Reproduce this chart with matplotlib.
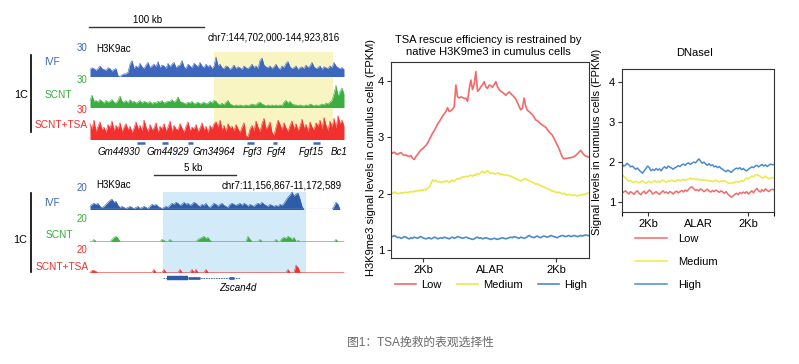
import numpy as np
import matplotlib
matplotlib.use("Agg")
import matplotlib.pyplot as plt
from matplotlib.transforms import blended_transform_factory

# ---------------- data ----------------

# genome browser, top locus (H3K9ac, 30 scale), 128 bins each
top_region = (144702000, 144923816)
top_highlight = (144810313, 144913426)
ivf_top = [8, 10, 9, 7, 9, 12, 9, 8, 7, 10, 9, 6, 8, 9,
           1, 0, 2, 3, 3, 5,
           14, 18, 9, 12, 10, 15, 11, 9, 13, 16, 10, 12, 14, 11, 17, 10, 13, 12, 9, 15, 11, 14,
           16, 10, 12, 13, 18, 11, 9, 14, 12, 10, 15, 13, 11, 16, 12, 10, 14, 11, 13, 9, 12,
           22, 12, 14, 10, 9, 12, 11, 8, 10, 13, 9, 11, 10, 8, 12, 10, 9, 11, 14, 10, 12, 9,
           18, 21, 13, 11, 10, 12, 9, 11, 14, 10, 8, 12, 10, 15, 17, 11, 9, 10, 12, 8, 10, 11,
           9, 13, 10, 12, 16, 11, 9, 10, 12, 8, 11, 10, 9, 12, 10,
           16, 12, 10, 9, 10, 8]
scnt_top = [8, 14, 7, 8, 6, 9, 7, 5, 8, 6, 7, 9, 6, 5, 8, 13, 7, 6, 8, 5,
            9, 6, 7, 5, 6, 8, 5, 7, 6, 5, 7, 4, 6, 5, 7, 6, 8, 5, 6, 7,
            7, 9, 6, 8, 12, 7, 6, 5, 4, 6, 5, 7, 4, 5, 6, 4, 5, 6, 4, 5,
            7, 5, 8,
            7, 4, 3, 5, 3, 6, 8, 4, 3, 2, 3, 2, 3, 2, 2, 3, 2, 3, 4, 3,
            3, 5, 6, 4, 3, 2, 3, 2, 3, 2, 3, 2, 3, 2, 6, 8, 5, 7, 4, 3,
            3, 2, 3, 2, 2, 3, 2, 4, 3, 2, 3, 2, 3, 4, 3, 5, 4, 6, 8,
            16, 25, 13, 18, 22, 15]
tsa_top = [18, 12, 22, 9, 15, 20, 11, 14, 8, 17, 13, 21, 10, 16, 12, 19, 9, 14, 18, 11,
           15, 8, 13, 20, 12, 16, 10, 22, 14, 9, 17, 11, 13, 19, 8, 15, 12, 18, 10, 14,
           21, 9, 16, 12, 11, 18, 13, 8, 15, 20, 10, 14, 12, 17, 9, 13, 19, 11, 15, 8,
           16, 12, 18,
           20, 14, 22, 11, 16, 9, 18, 13, 15, 10, 17, 12, 8, 14, 19, 4, 3, 12, 16, 10,
           21, 14, 9, 18, 24, 12, 15, 20, 8, 5, 14, 22, 17, 11, 19, 13, 9, 16, 21, 12,
           18, 10, 15, 23, 13, 17, 9, 20, 14, 11, 19, 15, 22, 12, 25, 16, 10, 21, 14,
           24, 13, 27, 18, 22, 15]
top_genes = ["Gm44930", "Gm44929", "Gm34964", "Fgf3", "Fgf4", "Fgf15", "Bc1"]
top_gene_spans = [(144743592, 144750524), (144765255, 144770454), (144787784, 144792116),
                  (144838907, 144845000), (144861436, 144864902), (144896096, 144902162),
                  (144920000, 144920600)]

# genome browser, bottom locus (H3K9ac, 20 scale), 128 bins each
bot_region = (11156867, 11172589)
bot_highlight = (11161411, 11170191)
ivf_bot = [3, 5, 6, 5, 6, 3, 2, 3, 5, 7, 9, 10, 7, 8, 4, 2,
           3, 2, 1, 2, 3, 2, 1, 2, 3, 1, 2, 3, 2, 1, 3, 5,
           4, 5, 3, 2, 1, 2, 3, 2, 4, 6, 5, 7, 6, 4, 5, 7,
           5, 6, 4, 5, 7, 6, 4, 3, 5, 4, 6, 3, 2, 4, 6, 5,
           3, 5, 6, 4, 3, 2, 5, 6, 5, 4, 5, 6, 4, 6, 5, 3,
           5, 4, 3, 5, 6, 5, 7, 5, 4, 3, 5, 4, 3, 4, 3, 5,
           4, 6, 9, 12, 14, 17, 13, 15, 16, 10, 3, 0, 0, 0, 0, 0,
           0, 0, 0, 0, 0, 0, 0, 0, 0, 0, 3, 7, 5, 0, 0, 0]
scnt_bot = [0, 0, 2, 0, 0, 0, 0, 0, 0, 0, 0, 2, 4, 5, 3, 0,
            0, 0, 0, 0, 0, 0, 0, 0, 0, 0, 0, 0, 0, 0, 0, 0,
            0, 0, 0, 0, 2, 1, 0, 0, 2, 0, 0, 0, 0, 0, 0, 0,
            0, 0, 0, 0, 0, 0, 2, 3, 4, 5, 3, 4, 1, 0, 0, 0,
            0, 0, 0, 0, 0, 0, 0, 0, 0, 0, 0, 0, 0, 0, 0, 5,
            2, 0, 0, 0, 0, 2, 0, 0, 0, 0, 0, 0, 0, 2, 0, 0,
            3, 4, 3, 5, 4, 2, 4, 0, 1, 0, 0, 0, 0, 0, 0, 0,
            0, 0, 0, 0, 0, 0, 0, 0, 0, 0, 0, 2, 0, 0, 0, 0]
tsa_bot = [0, 2, 2, 1, 0, 0, 0, 0, 0, 0, 0, 0, 0, 0, 0, 0,
           0, 0, 0, 0, 0, 0, 0, 0, 0, 0, 0, 0, 0, 0, 0, 0,
           3, 0, 0, 0, 0, 3, 0, 0, 0, 0, 0, 0, 0, 3, 0, 0,
           0, 0, 0, 3, 0, 3, 0, 0, 0, 0, 3, 0, 0, 0, 0, 0,
           0, 0, 0, 0, 0, 0, 0, 0, 0, 0, 0, 0, 0, 0, 0, 0,
           0, 0, 0, 0, 0, 0, 0, 0, 0, 0, 0, 0, 0, 0, 0, 0,
           0, 0, 0, 3, 0, 0, 0, 7, 5, 0, 0, 0, 0, 0, 0, 0,
           0, 0, 0, 0, 0, 0, 0, 0, 0, 0, 0, 0, 0, 0, 0, 0]
zscan_gene = (11161400, 11166150)
zscan_exons = [(11161650, 11162950, 1.0), (11162950, 11163700, 0.6), (11165450, 11165800, 0.6)]

# H3K9me3 profile (120 points)
h3_low = [2.75, 2.72, 2.74, 2.71, 2.70, 2.72, 2.73, 2.70, 2.68, 2.69,
          2.67, 2.66, 2.68, 2.63, 2.61, 2.66, 2.70, 2.74, 2.78, 2.80,
          2.83, 2.86, 2.90, 2.96, 3.02, 3.08, 3.12, 3.18, 3.24, 3.28,
          3.33, 3.38, 3.42, 3.46, 3.53, 3.46, 3.48, 3.50, 3.55, 3.93,
          3.72, 3.70, 3.72, 3.71, 3.69, 3.70, 3.64, 3.86, 4.02, 3.85,
          3.95, 4.17, 3.82, 3.85, 3.90, 3.94, 3.99, 3.90, 3.87, 3.93,
          3.92, 3.89, 3.94, 3.99, 3.90, 3.85, 3.82, 3.80, 3.78, 3.75,
          3.78, 3.81, 3.78, 3.75, 3.72, 3.68, 3.62, 3.55, 3.49, 3.52,
          3.70, 3.55, 3.48, 3.46, 3.43, 3.40, 3.36, 3.31, 3.30, 3.27,
          3.24, 3.22, 3.20, 3.18, 3.14, 3.10, 3.07, 3.04, 2.98, 2.92,
          2.86, 2.80, 2.72, 2.65, 2.62, 2.63, 2.63, 2.64, 2.64, 2.65,
          2.66, 2.68, 2.71, 2.74, 2.77, 2.73, 2.69, 2.67, 2.66, 2.65]
h3_medium = [2.02, 2.01, 2.03, 2.02, 2.00, 2.01, 2.02, 2.01, 2.02, 2.03,
             2.02, 2.03, 2.04, 2.03, 2.05, 2.04, 2.06, 2.05, 2.07, 2.06,
             2.08, 2.07, 2.10, 2.12, 2.18, 2.25, 2.22, 2.24, 2.21, 2.22,
             2.20, 2.22, 2.21, 2.23, 2.22, 2.20, 2.23, 2.24, 2.22, 2.25,
             2.27, 2.26, 2.28, 2.30, 2.29, 2.31, 2.30, 2.32, 2.33, 2.31,
             2.34, 2.33, 2.36, 2.35, 2.38, 2.40, 2.37, 2.39, 2.41, 2.38,
             2.36, 2.37, 2.36, 2.35, 2.37, 2.36, 2.34, 2.35, 2.33, 2.34,
             2.33, 2.32, 2.31, 2.30, 2.28, 2.27, 2.25, 2.24, 2.23, 2.25,
             2.26, 2.27, 2.25, 2.23, 2.22, 2.20, 2.19, 2.17, 2.18, 2.16,
             2.14, 2.13, 2.12, 2.10, 2.09, 2.08, 2.06, 2.05, 2.04, 2.03,
             2.02, 2.03, 2.01, 2.00, 2.01, 1.99, 1.98, 1.99, 1.98, 1.97,
             1.98, 1.97, 1.96, 1.98, 1.97, 1.99, 1.98, 2.00, 2.01, 2.02]
h3_high = [1.25, 1.24, 1.26, 1.24, 1.22, 1.23, 1.21, 1.22, 1.24, 1.23,
           1.21, 1.20, 1.22, 1.21, 1.23, 1.22, 1.21, 1.23, 1.24, 1.22,
           1.21, 1.20, 1.21, 1.22, 1.20, 1.21, 1.23, 1.22, 1.20, 1.21,
           1.22, 1.21, 1.23, 1.22, 1.21, 1.20, 1.22, 1.23, 1.21, 1.22,
           1.24, 1.23, 1.22, 1.21, 1.22, 1.23, 1.22, 1.21, 1.20, 1.19,
           1.20, 1.22, 1.23, 1.21, 1.22, 1.20, 1.21, 1.22, 1.21, 1.20,
           1.19, 1.20, 1.21, 1.20, 1.19, 1.20, 1.21, 1.22, 1.21, 1.20,
           1.21, 1.22, 1.23, 1.22, 1.24, 1.23, 1.22, 1.21, 1.23, 1.22,
           1.21, 1.22, 1.24, 1.26, 1.24, 1.23, 1.22, 1.24, 1.25, 1.23,
           1.22, 1.24, 1.25, 1.24, 1.23, 1.24, 1.26, 1.25, 1.24, 1.23,
           1.22, 1.24, 1.25, 1.26, 1.25, 1.24, 1.25, 1.26, 1.24, 1.25,
           1.26, 1.25, 1.24, 1.25, 1.26, 1.25, 1.26, 1.27, 1.26, 1.26]

# DNaseI profile (90 points)
dn_low = [1.22, 1.25, 1.28, 1.24, 1.20, 1.26, 1.23, 1.19, 1.25, 1.28,
          1.22, 1.18, 1.24, 1.27, 1.21, 1.25, 1.30, 1.26, 1.20, 1.23,
          1.26, 1.22, 1.19, 1.24, 1.28, 1.23, 1.25, 1.21, 1.26, 1.24,
          1.20, 1.25, 1.27, 1.23, 1.26, 1.29, 1.25, 1.30, 1.27, 1.32,
          1.36, 1.38, 1.33, 1.29, 1.31, 1.28, 1.33, 1.30, 1.26, 1.29,
          1.32, 1.27, 1.25, 1.29, 1.26, 1.30, 1.27, 1.24, 1.28, 1.25,
          1.22, 1.26, 1.20, 1.16, 1.12, 1.15, 1.19, 1.22, 1.18, 1.24,
          1.21, 1.25, 1.22, 1.26, 1.20, 1.24, 1.28, 1.23, 1.30, 1.34,
          1.28, 1.25, 1.31, 1.27, 1.33, 1.29, 1.26, 1.30, 1.32, 1.30]
dn_medium = [1.68, 1.65, 1.60, 1.56, 1.52, 1.54, 1.50, 1.49, 1.52, 1.50,
             1.48, 1.51, 1.53, 1.49, 1.47, 1.50, 1.52, 1.48, 1.51, 1.54,
             1.50, 1.52, 1.49, 1.53, 1.55, 1.51, 1.50, 1.53, 1.52, 1.55,
             1.53, 1.51, 1.54, 1.56, 1.52, 1.55, 1.57, 1.54, 1.56, 1.58,
             1.60, 1.57, 1.59, 1.56, 1.58, 1.55, 1.57, 1.54, 1.56, 1.53,
             1.55, 1.52, 1.54, 1.51, 1.53, 1.55, 1.52, 1.50, 1.53, 1.51,
             1.54, 1.50, 1.48, 1.46, 1.49, 1.47, 1.50, 1.52, 1.49, 1.51,
             1.54, 1.52, 1.56, 1.60, 1.58, 1.62, 1.65, 1.63, 1.67, 1.69,
             1.66, 1.64, 1.60, 1.62, 1.65, 1.61, 1.58, 1.60, 1.62, 1.60]
dn_high = [1.95, 1.90, 1.92, 1.97, 1.93, 1.88, 1.90, 1.86, 1.82, 1.85,
           1.80, 1.76, 1.72, 1.78, 1.84, 1.90, 1.86, 1.78, 1.82, 1.79,
           1.84, 1.80, 1.83, 1.78, 1.85, 1.88, 1.84, 1.90, 1.87, 1.85,
           1.82, 1.86, 1.88, 1.91, 1.89, 1.93, 1.95, 1.92, 1.96, 1.98,
           1.94, 1.97, 2.00, 1.98, 2.03, 2.08, 2.02, 1.97, 2.00, 1.95,
           1.92, 1.96, 1.91, 1.93, 1.88, 1.90, 1.86, 1.89, 1.84, 1.82,
           1.78, 1.76, 1.80, 1.77, 1.74, 1.79, 1.82, 1.85, 1.83, 1.86,
           1.81, 1.84, 1.80, 1.78, 1.82, 1.85, 1.88, 1.86, 1.90, 1.92,
           1.88, 1.91, 1.94, 1.90, 1.93, 1.89, 1.92, 1.95, 1.93, 1.94]

profile_ticks = ["2Kb", "ALAR", "2Kb"]
groups = ["Low", "Medium", "High"]

# ---------------- layout helpers ----------------
W, H = 799, 364
plt.rcParams["font.family"] = ["Liberation Sans", "DejaVu Sans"]

fig = plt.figure(figsize=(W / 100, H / 100), dpi=100)


def box(x0, y0, x1, y1):
    return [x0 / W, 1 - y1 / H, (x1 - x0) / W, (y1 - y0) / H]


def pt(x, y):
    return x / W, 1 - y / H


BLUE = "#3d66bf"
GREEN = "#3aae3f"
RED = "#f2302e"
C_LOW = "#f36a6a"
C_MED = "#ece84a"
C_HIGH = "#4a8bd0"


def track(rect, region, vals, ymax, color, base=None):
    ax = fig.add_axes(rect)
    ax.patch.set_alpha(0)
    x = np.linspace(region[0], region[1], len(vals) + 1)[:-1]
    x = x + (region[1] - region[0]) / len(vals) / 2
    if base:
        ax.axhline(0, color=base, lw=0.9)
    ax.fill_between(x, vals, color=color, lw=0)
    ax.plot(x, vals, color=color, lw=0.4)
    ax.set_xlim(region)
    ax.set_ylim(0, ymax)
    ax.axis("off")
    return ax


# ---------------- top locus ----------------
bg = fig.add_axes(box(89, 52, 345, 140))
bg.axvspan(*top_highlight, color="#f8f5c3", lw=0)
bg.set_xlim(top_region)
bg.set_ylim(0, 1)
bg.axis("off")
tr = blended_transform_factory(bg.transData, fig.transFigure)

bg.plot([top_region[0], top_region[0] + 100000], [pt(0, 27)[1]] * 2,
        color="#333333", lw=1, transform=tr, clip_on=False)
fig.text(*pt(148, 20), "100 kb", ha="center", va="center", fontsize=7)
fig.text(*pt(340, 37), "chr7:144,702,000-144,923,816", ha="right", va="center", fontsize=7)
fig.text(*pt(96, 49), "H3K9ac", ha="left", va="center", fontsize=7)

track(box(89, 50, 345, 76.5), top_region, ivf_top, 30, BLUE)
track(box(89, 81, 345, 107.5), top_region, scnt_top, 30, GREEN)
track(box(89, 113, 345, 139.5), top_region, tsa_top, 30, RED)

for (s, e) in top_gene_spans[:-1]:
    bg.plot([s, e], [pt(0, 143)[1]] * 2, color=BLUE, lw=1.8, transform=tr,
            clip_on=False, solid_capstyle="butt")
for name, lx in zip(top_genes, [119, 168, 214, 252, 276, 311, 339]):
    fig.text(*pt(lx, 152), name, ha="center", va="center", fontsize=7, style="italic")

for lab, col, ny, ly, lx in [("IVF", BLUE, 48, 62, 52), ("SCNT", GREEN, 80, 95, 58),
                             ("SCNT+TSA", RED, 110, 125, 61)]:
    fig.text(*pt(87, ny), "30", ha="right", va="center", fontsize=7, color=col)
    fig.text(*pt(lx, ly), lab, ha="center", va="center", fontsize=7.3, color=col)
fig.add_artist(plt.Line2D([31 / W] * 2, [pt(0, 55)[1], pt(0, 132)[1]], color="black", lw=1.2))
fig.text(*pt(21, 95), "1C", ha="center", va="center", fontsize=7.8)

# ---------------- bottom locus ----------------
bg2 = fig.add_axes(box(89, 192, 345, 273))
bg2.axvspan(*bot_highlight, color="#d3ebf8", lw=0)
bg2.set_xlim(bot_region)
bg2.set_ylim(0, 1)
bg2.axis("off")
tr2 = blended_transform_factory(bg2.transData, fig.transFigure)

scale_start = bot_region[0] + 4000
bg2.plot([scale_start, scale_start + 5000], [pt(0, 175)[1]] * 2,
         color="#333333", lw=1, transform=tr2, clip_on=False)
fig.text(*pt(193, 168), "5 kb", ha="center", va="center", fontsize=7)
fig.text(*pt(342, 185), "chr7:11,156,867-11,172,589", ha="right", va="center", fontsize=7)
fig.text(*pt(96, 185), "H3K9ac", ha="left", va="center", fontsize=7)

track(box(89, 189, 345, 209.5), bot_region, ivf_bot, 20, "#2f5ca8", base="#b8c4e8")
track(box(89, 221, 345, 241.5), bot_region, scnt_bot, 20, GREEN, base="#9fd89f")
track(box(89, 252, 345, 272.5), bot_region, tsa_bot, 20, RED, base="#f58a80")

# gene model
gy = pt(0, 278)[1]
bg2.plot(zscan_gene, [gy, gy], color="#2f5ca8", lw=0.6, ls=(0, (2, 1)),
         transform=tr2, clip_on=False)
for s, e, h in zscan_exons:
    bg2.plot([s, e], [gy, gy], color="#2f5ca8", lw=3.2 * h, transform=tr2,
             clip_on=False, solid_capstyle="butt")
fig.text(*pt(238, 288), "Zscan4d", ha="center", va="center", fontsize=7, style="italic")

for lab, col, ny, ly, lx in [("IVF", BLUE, 188, 203, 52), ("SCNT", GREEN, 219, 235, 59),
                             ("SCNT+TSA", RED, 250, 267, 62)]:
    fig.text(*pt(87, ny), "20", ha="right", va="center", fontsize=7, color=col)
    fig.text(*pt(lx, ly), lab, ha="center", va="center", fontsize=7.3, color=col)
fig.add_artist(plt.Line2D([31 / W] * 2, [pt(0, 193)[1], pt(0, 272)[1]], color="black", lw=1.2))
fig.text(*pt(20, 240), "1C", ha="center", va="center", fontsize=7.8)


# ---------------- profile plots ----------------
def style_profile(ax, n, ticks_at):
    ax.set_xlim(0, n - 1)
    ax.set_yticks([1, 2, 3, 4])
    ax.set_xticks(ticks_at)
    ax.set_xticklabels(profile_ticks)
    ax.tick_params(labelsize=8, length=3, width=0.8, color="#333333", pad=2)
    ax.xaxis.get_major_ticks()[1].tick1line.set_visible(False)
    for sp in ax.spines.values():
        sp.set_linewidth(0.8)
        sp.set_color("#333333")


ax1 = fig.add_axes(box(391, 62, 589, 258))
x1 = np.arange(len(h3_low))
ax1.plot(x1, h3_low, color=C_LOW, lw=1.2, label=groups[0])
ax1.plot(x1, h3_medium, color=C_MED, lw=1.2, label=groups[1])
ax1.plot(x1, h3_high, color=C_HIGH, lw=1.2, label=groups[2])
ax1.set_ylim(0.86, 4.34)
style_profile(ax1, len(h3_low), [19.2, 59.5, 99.2])
fig.text(*pt(488, 46), "TSA rescue efficiency is restrained by\nnative H3K9me3 in cumulus cells",
         ha="center", va="center", fontsize=8, linespacing=1.35)
fig.text(*pt(371, 158), "H3K9me3 signal levels in cumulus cells (FPKM)", rotation=90,
         ha="center", va="center", fontsize=8)
ax1.legend(loc="center", bbox_to_anchor=pt(491, 285), bbox_transform=fig.transFigure,
           ncol=3, frameon=False, fontsize=8, handlelength=1.9, columnspacing=1.4,
           handletextpad=0.45, borderpad=0)

ax2 = fig.add_axes(box(622, 69, 774, 212))
x2 = np.arange(len(dn_low))
ax2.plot(x2, dn_low, color=C_LOW, lw=1.1, label=groups[0])
ax2.plot(x2, dn_medium, color=C_MED, lw=1.1, label=groups[1])
ax2.plot(x2, dn_high, color=C_HIGH, lw=1.1, label=groups[2])
ax2.set_ylim(0.75, 4.33)
style_profile(ax2, len(dn_low), [15.2, 44.5, 73.8])
ax2.set_xticks([0, len(dn_low) - 1], minor=True)
ax2.tick_params(which="minor", length=3, width=0.8)
fig.text(*pt(695, 53), "DNaseI", ha="center", va="center", fontsize=8)
fig.text(*pt(597, 142), "Signal levels in cumulus cells (FPKM)", rotation=90,
         ha="center", va="center", fontsize=8)
ax2.legend(loc="upper left", bbox_to_anchor=pt(635, 234), bbox_transform=fig.transFigure,
           frameon=False, fontsize=8, handlelength=2.9, handletextpad=1.0,
           labelspacing=1.15, borderpad=0, borderaxespad=0)

# caption (Latin letters from Liberation Sans, CJK from Noto)
fig.text(*pt(420, 343), "图1：TSA挽救的表观选择性", ha="center", va="center", fontsize=8.5,
         color="#6b6b6b", family=["Liberation Sans", "Noto Sans CJK SC"])

fig.savefig("out.png", dpi=100)
